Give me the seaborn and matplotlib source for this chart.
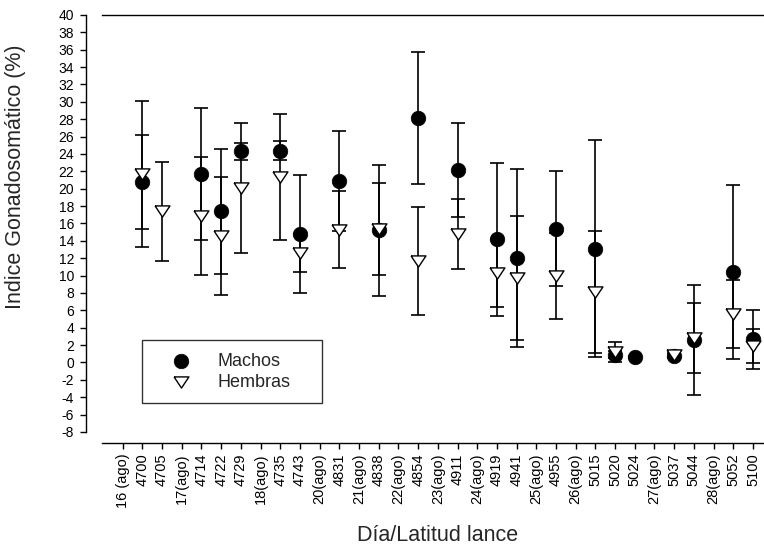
import numpy as np
import pandas as pd
import matplotlib
matplotlib.use('Agg')
import matplotlib.pyplot as plt
import seaborn as sns

# etiquetas del eje x (días y lances)
TICK_LABELS = ['16 (ago)', '4700', '4705', '17(ago)', '4714', '4722', '4729',
               '18(ago)', '4735', '4743', '20(ago)', '4831', '21(ago)', '4838',
               '22(ago)', '4854', '23(ago)', '4911', '24(ago)', '4919', '4941',
               '25(ago)', '4955', '26(ago)', '5015', '5020', '5024', '27(ago)',
               '5037', '5044', '28(ago)', '5052', '5100']

# lances con datos
LANCES = ['4700', '4705', '4714', '4722', '4729', '4735', '4743', '4831', '4838',
          '4854', '4911', '4919', '4941', '4955', '5015', '5020', '5024', '5037',
          '5044', '5052', '5100']

# IGS medio y desviación estándar
MACHOS_MEAN = [20.8, np.nan, 21.7, 17.4, 24.3, 24.4, 14.8, 20.9, 15.2, 28.1, 22.2,
               14.2, 12.0, 15.4, 13.1, 0.9, 0.67, 0.8, 2.6, 10.45, 2.67]
MACHOS_SD = [5.4, np.nan, 7.6, 7.2, 1.0, 1.05, 6.8, 5.8, 7.5, 7.6, 5.4,
             8.8, 10.25, 6.6, 12.5, 0.4, 0.1, 0.2, 6.3, 10.0, 3.4]
HEMBRAS_MEAN = [21.7, 17.4, 16.9, 14.6, 20.1, 21.3, 12.6, 15.3, 15.4, 11.7, 14.8,
                10.3, 9.7, 9.95, 8.1, 1.2, np.nan, 0.86, 2.8, 5.55, 1.9]
HEMBRAS_SD = [8.4, 5.7, 6.8, 6.8, 7.5, 7.25, 2.2, 4.4, 5.3, 6.2, 4.0,
              3.9, 7.15, 4.9, 7.05, 1.2, np.nan, 0.3, 4.0, 3.9, 2.0]

Y_TICKS = list(range(-8, 41, 2))

# triángulo invertido algo achatado
TRI = [(-1, 0.75), (1, 0.75), (0, -0.75), (-1, 0.75)]


def main():
    sns.set_style('ticks')
    plt.rcParams['font.family'] = ['Liberation Sans', 'DejaVu Sans']

    pos = [TICK_LABELS.index(l) for l in LANCES]
    df = pd.DataFrame({'pos': pos,
                       'm_mean': MACHOS_MEAN, 'm_sd': MACHOS_SD,
                       'h_mean': HEMBRAS_MEAN, 'h_sd': HEMBRAS_SD})

    fig = plt.figure(figsize=(7.64, 5.48), dpi=100)
    ax = fig.add_axes([102 / 764, 105 / 548, 662 / 764, 428 / 548])

    # barras de error
    for col in ['m', 'h']:
        d = df.dropna(subset=[col + '_mean'])
        ax.errorbar(d['pos'], d[col + '_mean'], yerr=d[col + '_sd'], fmt='none',
                    ecolor='black', elinewidth=1.2, capsize=5, capthick=1.2, zorder=2)

    sns.scatterplot(data=df, x='pos', y='m_mean', marker='o', s=110,
                    color='black', edgecolor='black', linewidth=0.5,
                    label='Machos', ax=ax, zorder=3)
    sns.scatterplot(data=df, x='pos', y='h_mean', marker=TRI, s=115,
                    facecolor='white', edgecolor='black', linewidth=1.0,
                    label='Hembras', ax=ax, zorder=4)

    ax.set_xlim(-1.05, 32.56)
    ax.set_ylim(-9.27, 40)
    ax.set_xticks(range(len(TICK_LABELS)))
    ax.set_xticklabels(TICK_LABELS, rotation=90, fontsize=10.5)
    ax.set_yticks(Y_TICKS)
    ax.set_yticklabels([str(v) for v in Y_TICKS], fontsize=13.5)

    ax.spines['right'].set_visible(False)
    ax.spines['left'].set_position(('outward', 11.5))
    ax.spines['left'].set_bounds(-8, 40)
    for s in ['left', 'top', 'bottom']:
        ax.spines[s].set_color('black')
        ax.spines[s].set_linewidth(1.0)
    ax.tick_params(axis='y', direction='out', length=4.5, width=1, pad=4, colors='black')
    ax.tick_params(axis='x', direction='out', length=4.5, width=1, pad=3, colors='black')

    ax.set_xlabel('Día/Latitud lance', fontsize=15.5)
    ax.set_ylabel('Indice Gonadosomático (%)', fontsize=15.5)
    ax.xaxis.set_label_coords(0.507, -0.192)
    ax.yaxis.set_label_coords(-0.115, 0.621)

    leg = ax.legend(loc='lower left', bbox_to_anchor=(0.06, 0.093, 0.273, 0.16),
                    mode='expand', borderaxespad=0,
                    fontsize=13, frameon=True, fancybox=False, handlelength=2.9,
                    handletextpad=0.6, borderpad=0.7, labelspacing=0.2)
    leg.get_frame().set_edgecolor('black')
    leg.get_frame().set_linewidth(1.0)

    fig.savefig('out.png', dpi=100)


if __name__ == "__main__":
    main()
